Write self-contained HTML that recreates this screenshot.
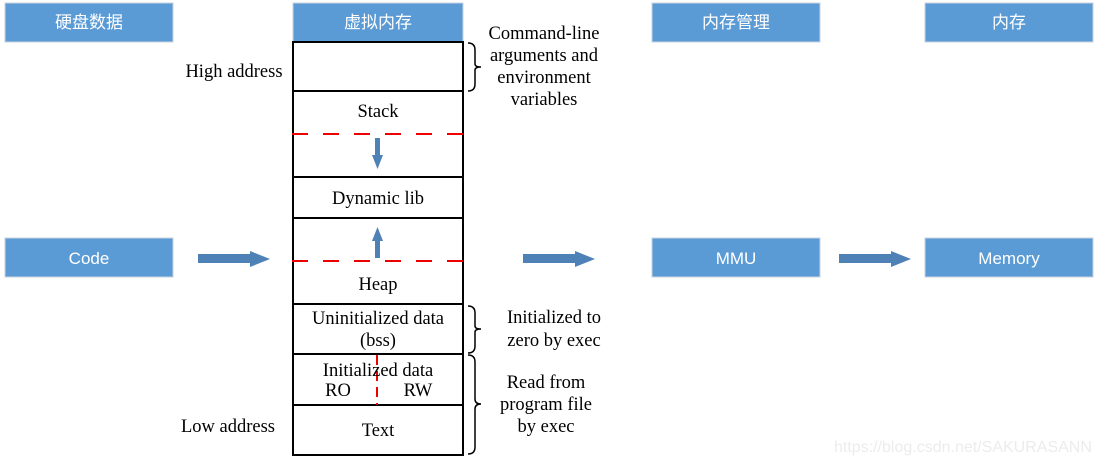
<!DOCTYPE html>
<html><head><meta charset="utf-8"><style>
html,body{margin:0;padding:0;background:#fff;width:1100px;height:464px;overflow:hidden}
svg{display:block}
.s{font-family:"Liberation Serif",serif;font-size:18.5px;fill:#000}
.b{font-family:"Liberation Sans","Noto Sans CJK SC",sans-serif;font-size:17px;fill:#fff}
</style></head><body>
<svg width="1100" height="464" viewBox="0 0 1100 464">
<g fill="#5b9bd5" stroke="#c8d3df" stroke-width="1">
<rect x="5" y="3" width="168" height="39"/>
<rect x="293" y="3" width="170" height="39"/>
<rect x="652" y="3" width="168" height="39"/>
<rect x="925" y="3" width="168" height="39"/>
<rect x="5" y="238" width="168" height="39"/>
<rect x="652" y="238" width="168" height="39"/>
<rect x="925" y="238" width="168" height="39"/>
</g>
<g text-anchor="middle" class="b">
<text x="89" y="28" class="b">硬盘数据</text>
<text x="378" y="28" class="b">虚拟内存</text>
<text x="736" y="28" class="b">内存管理</text>
<text x="1009" y="28" class="b">内存</text>
<text x="89" y="264" class="b">Code</text>
<text x="736" y="264" class="b">MMU</text>
<text x="1009" y="264" class="b">Memory</text>
</g>
<g fill="#4e81b5">
<polygon points="198,254 250,254 250,251 270,259 250,267 250,263 198,263"/>
<polygon points="523,254 575,254 575,251 595,259 575,267 575,263 523,263"/>
<polygon points="839,254 891,254 891,251 911,259 891,267 891,263 839,263"/>
<polygon points="375,138 380,138 380,155 383,155 377.5,169 372,155 375,155"/>
<polygon points="375,258 380,258 380,241 383,241 377.5,227 372,241 375,241"/>
</g>
<g fill="none" stroke="#000" stroke-width="2">
<rect x="293" y="42" width="170" height="413"/>
<line x1="293" y1="91" x2="463" y2="91"/>
<line x1="293" y1="177" x2="463" y2="177"/>
<line x1="293" y1="218" x2="463" y2="218"/>
<line x1="293" y1="304" x2="463" y2="304"/>
<line x1="293" y1="354" x2="463" y2="354"/>
<line x1="293" y1="405" x2="463" y2="405"/>
</g>
<g stroke="#e00" stroke-width="2" stroke-dasharray="16,15">
<line x1="292" y1="134" x2="463" y2="134"/>
<line x1="292" y1="261" x2="463" y2="261"/>
<line x1="377" y1="355" x2="377" y2="405" stroke-dasharray="10,6"/>
</g>
<g fill="none" stroke="#000" stroke-width="1.5">
<path d="M468,43 Q475,43 475,50 L475,64 Q475,67 481,67 Q475,67 475,70 L475,84 Q475,91 468,91"/>
<path d="M468,306 Q475,306 475,313 L475,326 Q475,329 481,329 Q475,329 475,332 L475,346 Q475,353 468,353"/>
<path d="M468,355 Q475,355 475,362 L475,399 Q475,404 481,404 Q475,404 475,409 L475,447 Q475,454 468,454"/>
</g>
<g class="s" text-anchor="middle">
<text x="378" y="117">Stack</text>
<text x="378" y="204">Dynamic lib</text>
<text x="378" y="290">Heap</text>
<text x="378" y="324">Uninitialized data</text>
<text x="378" y="346">(bss)</text>
<text x="378" y="376">Initialized data</text>
<text x="338" y="396">RO</text>
<text x="418" y="396">RW</text>
<text x="378" y="436">Text</text>
<text x="544" y="39">Command-line</text>
<text x="544" y="61">arguments and</text>
<text x="544" y="83">environment</text>
<text x="544" y="105">variables</text>
<text x="554" y="323">Initialized to</text>
<text x="554" y="346">zero by exec</text>
<text x="546" y="388">Read from</text>
<text x="546" y="410">program file</text>
<text x="546" y="432">by exec</text>
<text x="234" y="77">High address</text>
<text x="228" y="432">Low address</text>
</g>
<text x="834" y="452" font-family="Liberation Sans,sans-serif" font-size="16" fill="#ececec">https://blog.csdn.net/SAKURASANN</text>
</svg>
</body></html>
